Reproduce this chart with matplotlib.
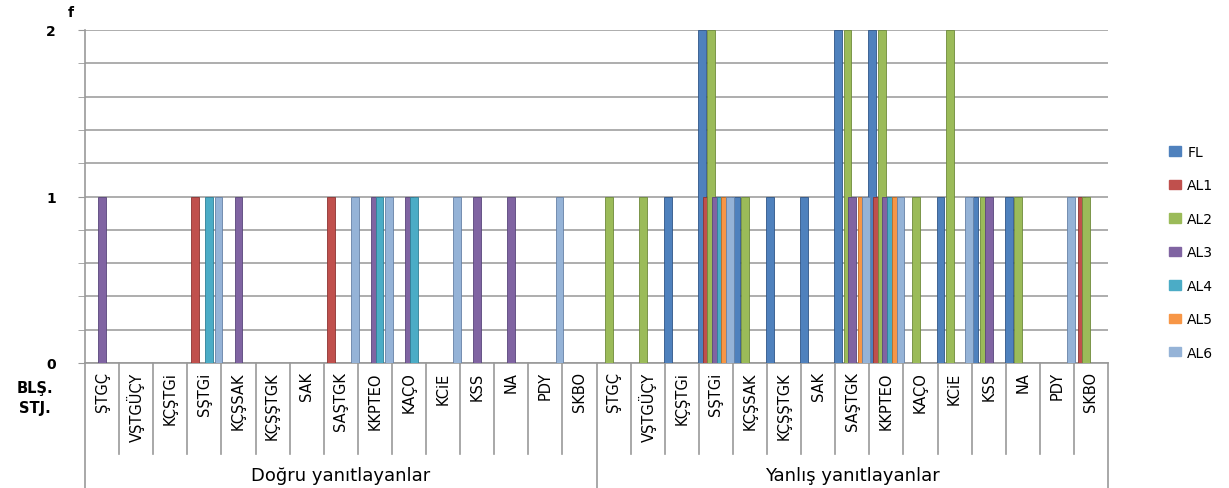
import numpy as np
import matplotlib
matplotlib.use("Agg")
import matplotlib.pyplot as plt
from matplotlib.patches import Patch

# categories (same list for both answer groups)
cats = ["ŞTGÇ", "VŞTGÜÇY", "KÇŞTGi", "SŞTGi", "KÇŞSAK", "KÇŞŞTGK", "SAK", "SAŞTGK",
        "KKPTEO", "KAÇO", "KCiE", "KSS", "NA", "PDY", "SKBO"]
groups = ["Doğru yanıtlayanlar", "Yanlış yanıtlayanlar"]
seriesNames = ["FL", "AL1", "AL2", "AL3", "AL4", "AL5", "AL6"]

# Doğru yanıtlayanlar
dFL  = [0, 0, 0, 0, 0, 0, 0, 0, 0, 0, 0, 0, 0, 0, 0]
dAL1 = [0, 0, 0, 1, 0, 0, 0, 1, 0, 0, 0, 0, 0, 0, 0]
dAL2 = [0, 0, 0, 0, 0, 0, 0, 0, 0, 0, 0, 0, 0, 0, 0]
dAL3 = [1, 0, 0, 0, 1, 0, 0, 0, 1, 1, 0, 1, 1, 0, 0]
dAL4 = [0, 0, 0, 1, 0, 0, 0, 0, 1, 1, 0, 0, 0, 0, 0]
dAL5 = [0, 0, 0, 0, 0, 0, 0, 0, 0, 0, 0, 0, 0, 0, 0]
dAL6 = [0, 0, 0, 1, 0, 0, 0, 1, 1, 0, 1, 0, 0, 1, 0]

# Yanlış yanıtlayanlar
yFL  = [0, 0, 1, 2, 1, 1, 1, 2, 2, 0, 1, 1, 1, 0, 0]
yAL1 = [0, 0, 0, 1, 0, 0, 0, 0, 1, 0, 0, 0, 0, 0, 1]
yAL2 = [1, 1, 0, 2, 1, 0, 0, 2, 2, 1, 2, 1, 1, 0, 1]
yAL3 = [0, 0, 0, 1, 0, 0, 0, 1, 1, 0, 0, 1, 0, 0, 0]
yAL4 = [0, 0, 0, 1, 0, 0, 0, 0, 1, 0, 0, 0, 0, 0, 0]
yAL5 = [0, 0, 0, 1, 0, 0, 0, 1, 1, 0, 0, 0, 0, 0, 0]
yAL6 = [0, 0, 0, 1, 0, 0, 0, 1, 1, 0, 1, 0, 0, 1, 0]

colors = ["#4F81BD", "#C0504D", "#9BBB59", "#8064A2", "#4BACC6", "#F79646", "#95B3D7"]
edges = ["#2f5587", "#8c3331", "#6e8a3a", "#58457a", "#2f7f96", "#c06a20", "#6681a6"]

values = [dFL + yFL, dAL1 + yAL1, dAL2 + yAL2, dAL3 + yAL3,
          dAL4 + yAL4, dAL5 + yAL5, dAL6 + yAL6]

nCat = len(cats) * len(groups)
x = np.arange(nCat) + 0.5
step = 0.138
width = 0.23

fig = plt.figure(figsize=(12.29, 4.89), dpi=100)
ax = fig.add_axes([85 / 1229, 1 - 364 / 489, (1108 - 85) / 1229, (364 - 31) / 489])

for i, vals in enumerate(values):
    ax.bar(x + (i - 3) * step, vals, width=width, color=colors[i],
           edgecolor=edges[i], linewidth=0.6, zorder=3 + i)

ax.set_xlim(0, nCat)
ax.set_ylim(0, 2)
ax.set_yticks([0, 1, 2])
ax.set_yticks(np.arange(0, 2.01, 0.2), minor=True)
ax.set_yticklabels(["0", "1", "2"], fontsize=10, fontweight="bold")
ax.tick_params(axis="y", which="both", length=5, color="#999999", pad=16)
ax.yaxis.grid(True, which="both", color="#a0a0a0", linewidth=1.2, zorder=0)
ax.set_axisbelow(True)
ax.set_xticks([])

for s in ["top", "right"]:
    ax.spines[s].set_visible(False)
ax.spines["left"].set_color("#999999")
ax.spines["bottom"].set_color("#999999")
ax.spines["left"].set_linewidth(1.2)
ax.spines["bottom"].set_linewidth(1.2)

# category labels and separators below the axis
trans = ax.get_xaxis_transform()
for k in range(nCat):
    ax.text(k + 0.5, -0.025, cats[k % len(cats)], transform=trans, rotation=90,
            ha="center", va="top", fontsize=10.5)
for k in range(nCat + 1):
    bottom = -0.273 if k % len(cats) else -0.38
    ax.plot([k, k], [0, bottom], transform=trans, color="#999999",
            linewidth=1.2, clip_on=False)
for g, name in enumerate(groups):
    ax.text(g * len(cats) + len(cats) / 2, -0.335, name, transform=trans,
            ha="center", va="center", fontsize=13)

fig.text(35 / 1229, 1 - 388 / 489, "BLŞ.", ha="center", va="center",
         fontsize=10.5, fontweight="bold")
fig.text(35 / 1229, 1 - 409 / 489, "STJ.", ha="center", va="center",
         fontsize=10.5, fontweight="bold")
fig.text(71 / 1229, 1 - 13 / 489, "f", ha="center", va="center",
         fontsize=10, fontweight="bold")

handles = [Patch(facecolor=c, edgecolor=c) for c in colors]
fig.legend(handles, seriesNames, loc="upper left",
           bbox_to_anchor=(1169 / 1229, 1 - 146 / 489), frameon=False,
           fontsize=10, labelspacing=1.4, handlelength=0.87, handleheight=0.65,
           handletextpad=0.45, borderpad=0, borderaxespad=0)

fig.savefig("out.png", dpi=100)
